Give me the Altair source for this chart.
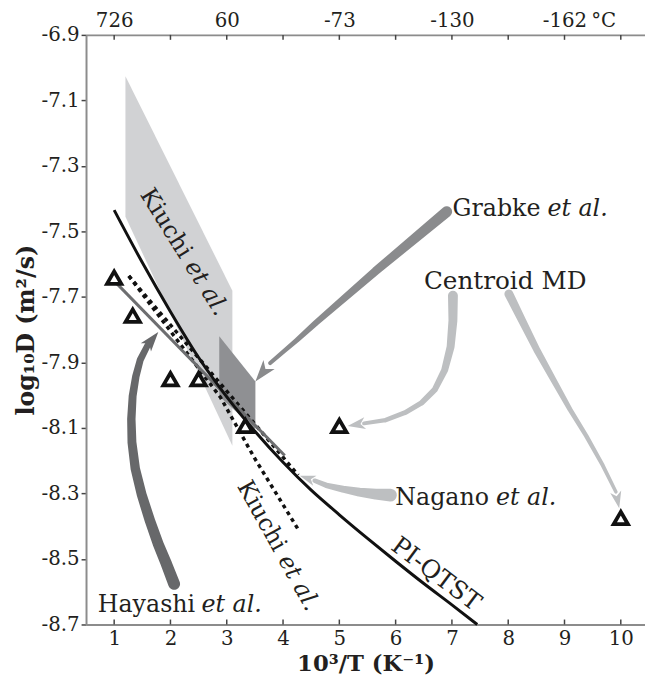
import altair as alt
import pandas as pd

FONT = "DejaVu Serif"
INK = "#231f20"
AXIS_GRAY = "#8c8c8c"
LIGHT = "#d1d2d4"
LIGHT_ARROW = "#bdbfc1"
DARK_POLY = "#8f9093"
GRABKE_ARROW = "#8a8b8d"
HAYASHI_ARROW = "#67686a"
NAGANO_LINE = "#6d6e70"

W, H = 566, 597

# ---------------- data ----------------
X_TICKS = [1, 2, 3, 4, 5, 6, 7, 8, 9, 10]
Y_TICKS = [-6.9, -7.1, -7.3, -7.5, -7.7, -7.9, -8.1, -8.3, -8.5, -8.7]
TOP_TICKS = [1, 3, 5, 7, 9]
TOP_LABELS = ["726", "60", "-73", "-130", "-162"]

# Kiuchi et al. experimental band (light) and Grabke et al. band (dark)
band_x = [1.2, 3.1]
band_top = [-7.026, -7.681]
band_bot = [-7.455, -8.154]
grabke_x = [2.867, 3.509]
grabke_top = [-7.820, -7.958]
grabke_bot = [-8.003, -8.104]

# PI-QTST
qtst_x = [1.0, 1.5, 2.0, 2.5, 3.0, 3.5, 4.0, 4.5, 5.0, 5.5, 6.0, 6.5, 7.0, 7.45]
qtst_y = [-7.435, -7.595, -7.745, -7.885, -8.005, -8.110, -8.205, -8.290,
          -8.365, -8.437, -8.507, -8.575, -8.640, -8.700]

# Nagano et al.
nagano_x = [1.0, 4.03]
nagano_y = [-7.651, -8.184]

# Kiuchi et al. fits (dotted)
kiuchi1_x = [1.26, 4.27]
kiuchi1_y = [-7.636, -8.244]
kiuchi2_x = [1.26, 2.89, 3.50, 4.27]
kiuchi2_y = [-7.636, -8.007, -8.194, -8.410]

# triangles (Hayashi et al. / Centroid MD)
tri_x = [1.0, 1.33, 2.0, 2.5, 3.33, 5.0, 10.0]
tri_y = [-7.641, -7.757, -7.951, -7.951, -8.094, -8.094, -8.375]

# annotation arrows (stem paths, widths in px)
arr_grabke_x = [6.907, 5.644, 4.591, 4.246, 4.007, 3.772]
arr_grabke_y = [-7.440, -7.621, -7.778, -7.832, -7.867, -7.902]
arr_grabke_w = [11, 8.5, 6, 5, 4.5, 4]

arr_c1_x = [7.018, 7.018, 6.977, 6.872, 6.696, 6.463, 6.170, 5.819, 5.439]
arr_c1_y = [-7.696, -7.772, -7.852, -7.923, -7.983, -8.023, -8.053, -8.076, -8.086]
arr_c1_w = [10, 9, 8, 7, 6, 5.5, 5, 4.5, 4]

arr_c2_x = [8.012, 8.246, 8.509, 8.802, 9.095, 9.386, 9.679, 9.912]
arr_c2_y = [-7.691, -7.772, -7.862, -7.953, -8.043, -8.124, -8.214, -8.295]
arr_c2_w = [9, 8, 7, 6, 5, 4.5, 4, 3.5]

arr_nag_x = [5.907, 5.644, 5.351, 5.060, 4.767, 4.561]
arr_nag_y = [-8.305, -8.302, -8.296, -8.287, -8.275, -8.261]
arr_nag_w = [13, 11, 9, 7, 5.5, 4.5]

arr_hay_x = [2.065, 1.930, 1.784, 1.639, 1.491, 1.375, 1.316, 1.305, 1.328, 1.386, 1.463, 1.596]
arr_hay_y = [-8.576, -8.516, -8.455, -8.385, -8.305, -8.224, -8.144, -8.073, -8.003, -7.942, -7.892, -7.847]
arr_hay_w = [12, 11.5, 11, 10.5, 10, 9.5, 9, 8.5, 8, 7.5, 7, 6.5]

# arrow heads: tip position, rotation (deg), symbol size
head_x = [3.509, 5.147, 9.972, 4.298, 1.784]
head_y = [-7.958, -8.094, -8.345, -8.246, -7.807]
head_angle = [219, 261, 168, 288, 39]
head_size = [860, 576, 514, 455, 711]
head_color = [GRABKE_ARROW, LIGHT_ARROW, LIGHT_ARROW, LIGHT_ARROW, HAYASHI_ARROW]

# labels: roman part + italic "et al."
lab_roman = ["Grabke", "Nagano", "Hayashi"]
lab_x = [7.012, 5.994, 0.71]
lab_y = [-7.452, -8.335, -8.661]
lab_dx = [96, 102, 105]
centroid_label = ("Centroid MD", 6.503, -7.676)

# rotated labels
kiuchi_x = [2.314, 3.98]
kiuchi_y = [-7.585, -8.482]
kiuchi_angle = [58, 61]
qtst_label = ("PI-QTST", 6.723, -8.546, 37)

# ---------------- chart ----------------
xs = alt.Scale(domain=[0.5, 10.43], nice=False, zero=False)
ys = alt.Scale(domain=[-8.7, -6.9], nice=False, zero=False)


def X(field="x", axis=None):
    return alt.X(f"{field}:Q", scale=xs, axis=axis)


def Y(field="y", axis=None):
    return alt.Y(f"{field}:Q", scale=ys, axis=axis)


top_expr = " : ".join(f"datum.value == {v} ? '{l}'" for v, l in zip(TOP_TICKS, TOP_LABELS)) + " : ''"

bottom_axis = alt.Axis(values=X_TICKS, format="d", tickSize=0, labelPadding=4,
                       labelFont=FONT, labelFontSize=20, labelColor=INK,
                       labelFlush=False, labelOverlap=False,
                       domainColor=AXIS_GRAY, domainWidth=2, grid=False,
                       title="10³/T (K⁻¹)", titleFont=FONT, titleFontSize=23,
                       titleFontWeight="bold", titleColor=INK, titlePadding=5)
top_axis = alt.Axis(orient="top", values=X_TICKS, labelExpr=top_expr, tickSize=0,
                    labelPadding=4, labelFont=FONT, labelFontSize=20, labelColor=INK,
                    labelFlush=False, labelOverlap=False,
                    domainColor=AXIS_GRAY, domainWidth=2, grid=False, title=None)
left_axis = alt.Axis(values=Y_TICKS, labelExpr="replace(format(datum.value, '.1f'), '\u2212', '-')",
                     tickSize=5, tickColor="#444", tickWidth=1.5, labelPadding=2,
                     labelFont=FONT, labelFontSize=20, labelColor=INK, labelOverlap=False,
                     domainColor=AXIS_GRAY, domainWidth=2, grid=False,
                     title="log₁₀D (m²/s)", titleFont=FONT, titleFontSize=24,
                     titleFontWeight="bold", titleColor=INK, titlePadding=3)

band_df = pd.DataFrame({"x": band_x, "y": band_top, "y2": band_bot})
band = alt.Chart(band_df).mark_area(color=LIGHT, opacity=1).encode(
    x=X(axis=bottom_axis), y=Y(axis=left_axis), y2="y2:Q")

grabke_df = pd.DataFrame({"x": grabke_x, "y": grabke_top, "y2": grabke_bot})
grabke = alt.Chart(grabke_df).mark_area(color=DARK_POLY, opacity=1).encode(
    x=X(), y=Y(), y2="y2:Q")

kiuchi_df = pd.concat([
    pd.DataFrame({"x": kiuchi1_x, "y": kiuchi1_y, "k": "a"}),
    pd.DataFrame({"x": kiuchi2_x, "y": kiuchi2_y, "k": "b"}),
])
kiuchi = alt.Chart(kiuchi_df).mark_line(color="#111", strokeWidth=3.5,
                                        strokeDash=[4, 4]).encode(
    x=X(), y=Y(), detail="k:N")

nagano = alt.Chart(pd.DataFrame({"x": nagano_x, "y": nagano_y})).mark_line(
    color=NAGANO_LINE, strokeWidth=3).encode(x=X(), y=Y())

qtst = alt.Chart(pd.DataFrame({"x": qtst_x, "y": qtst_y})).mark_line(
    color="#111", strokeWidth=3, interpolate="monotone").encode(x=X(), y=Y())

tri = alt.Chart(pd.DataFrame({"x": tri_x, "y": tri_y})).mark_point(
    shape="triangle-up", filled=False, fill="white", fillOpacity=1, size=210,
    stroke="#111", strokeWidth=3.8, opacity=1).encode(x=X(), y=Y())

arrows = []
for name, col, ax, ay, aw in [
    ("grabke", GRABKE_ARROW, arr_grabke_x, arr_grabke_y, arr_grabke_w),
    ("c1", LIGHT_ARROW, arr_c1_x, arr_c1_y, arr_c1_w),
    ("c2", LIGHT_ARROW, arr_c2_x, arr_c2_y, arr_c2_w),
    ("nag", LIGHT_ARROW, arr_nag_x, arr_nag_y, arr_nag_w),
    ("hay", HAYASHI_ARROW, arr_hay_x, arr_hay_y, arr_hay_w),
]:
    arrows.append(pd.DataFrame({"x": ax, "y": ay, "w": aw, "c": col, "a": name,
                                "i": list(range(len(ax)))}))
arrow_df = pd.concat(arrows)
stems = alt.Chart(arrow_df).mark_trail().encode(
    x=X(), y=Y(), size=alt.Size("w:Q", scale=None),
    color=alt.Color("c:N", scale=None), detail="a:N", order="i:Q")

heads_df = pd.DataFrame({"x": head_x, "y": head_y, "ang": head_angle,
                         "s": head_size, "c": head_color})
heads = alt.Chart(heads_df).mark_point(
    shape="M0,0 L0.5,1.5 L0,1.1 L-0.5,1.5 Z", filled=True, opacity=1,
    strokeWidth=0).encode(
    x=X(), y=Y(), angle=alt.Angle("ang:Q", scale=None),
    size=alt.Size("s:Q", scale=None), color=alt.Color("c:N", scale=None))

labels = []
for t, lx, ly, ldx in zip(lab_roman, lab_x, lab_y, lab_dx):
    d = pd.DataFrame({"x": [lx], "y": [ly]})
    labels.append(alt.Chart(d).mark_text(text=t, font=FONT, fontSize=24, color=INK,
                                         align="left", baseline="alphabetic"
                                         ).encode(x=X(), y=Y()))
    labels.append(alt.Chart(d).mark_text(text="et al.", font=FONT, fontSize=24, color=INK,
                                         fontStyle="italic", align="left",
                                         baseline="alphabetic", dx=ldx
                                         ).encode(x=X(), y=Y()))

cen = alt.Chart(pd.DataFrame({"x": [centroid_label[1]], "y": [centroid_label[2]]})).mark_text(
    text=centroid_label[0], font=FONT, fontSize=25, color=INK, align="left",
    baseline="alphabetic").encode(x=X(), y=Y())

krot = []
for kx, ky, ka in zip(kiuchi_x, kiuchi_y, kiuchi_angle):
    d = pd.DataFrame({"x": [kx], "y": [ky]})
    krot.append(alt.Chart(d).mark_text(text="Kiuchi", font=FONT, fontSize=24, color=INK,
                                       angle=ka, align="right", baseline="middle", dx=-4
                                       ).encode(x=X(), y=Y()))
    krot.append(alt.Chart(d).mark_text(text="et al.", font=FONT, fontSize=24, color=INK,
                                       fontStyle="italic", angle=ka, align="left",
                                       baseline="middle", dx=4).encode(x=X(), y=Y()))

qlab = alt.Chart(pd.DataFrame({"x": [qtst_label[1]], "y": [qtst_label[2]]})).mark_text(
    text=qtst_label[0], font=FONT, fontSize=25, color=INK, angle=qtst_label[3],
    align="center", baseline="middle").encode(x=X(), y=Y())

tick_df = pd.DataFrame({"x": X_TICKS})
top_ticks = alt.Chart(tick_df).mark_rule(color="#444", strokeWidth=1.5).encode(
    x=X(axis=top_axis), y=alt.value(0), y2=alt.value(5))
bot_ticks = alt.Chart(tick_df).mark_rule(color="#444", strokeWidth=1.5).encode(
    x=X(), y=alt.value(H), y2=alt.value(H - 5))

deg = alt.Chart(pd.DataFrame({"x": [9]})).mark_text(
    text="°C", font=FONT, fontSize=20, color=INK, align="left", baseline="bottom",
    dx=27).encode(x=X(), y=alt.value(-4))

chart = alt.layer(
    band, grabke, kiuchi, nagano, qtst, stems, heads, tri,
    *labels, cen, *krot, qlab, top_ticks, bot_ticks, deg
).resolve_axis(x="independent", y="independent").properties(
    width=W, height=H,
    autosize=alt.AutoSizeParams(type="none"),
    padding={"left": 79, "top": 23, "right": 0, "bottom": 53},
).configure_view(stroke=None).configure(background="white")

chart.save("out.html", embed_options={"renderer": "svg", "actions": False})
